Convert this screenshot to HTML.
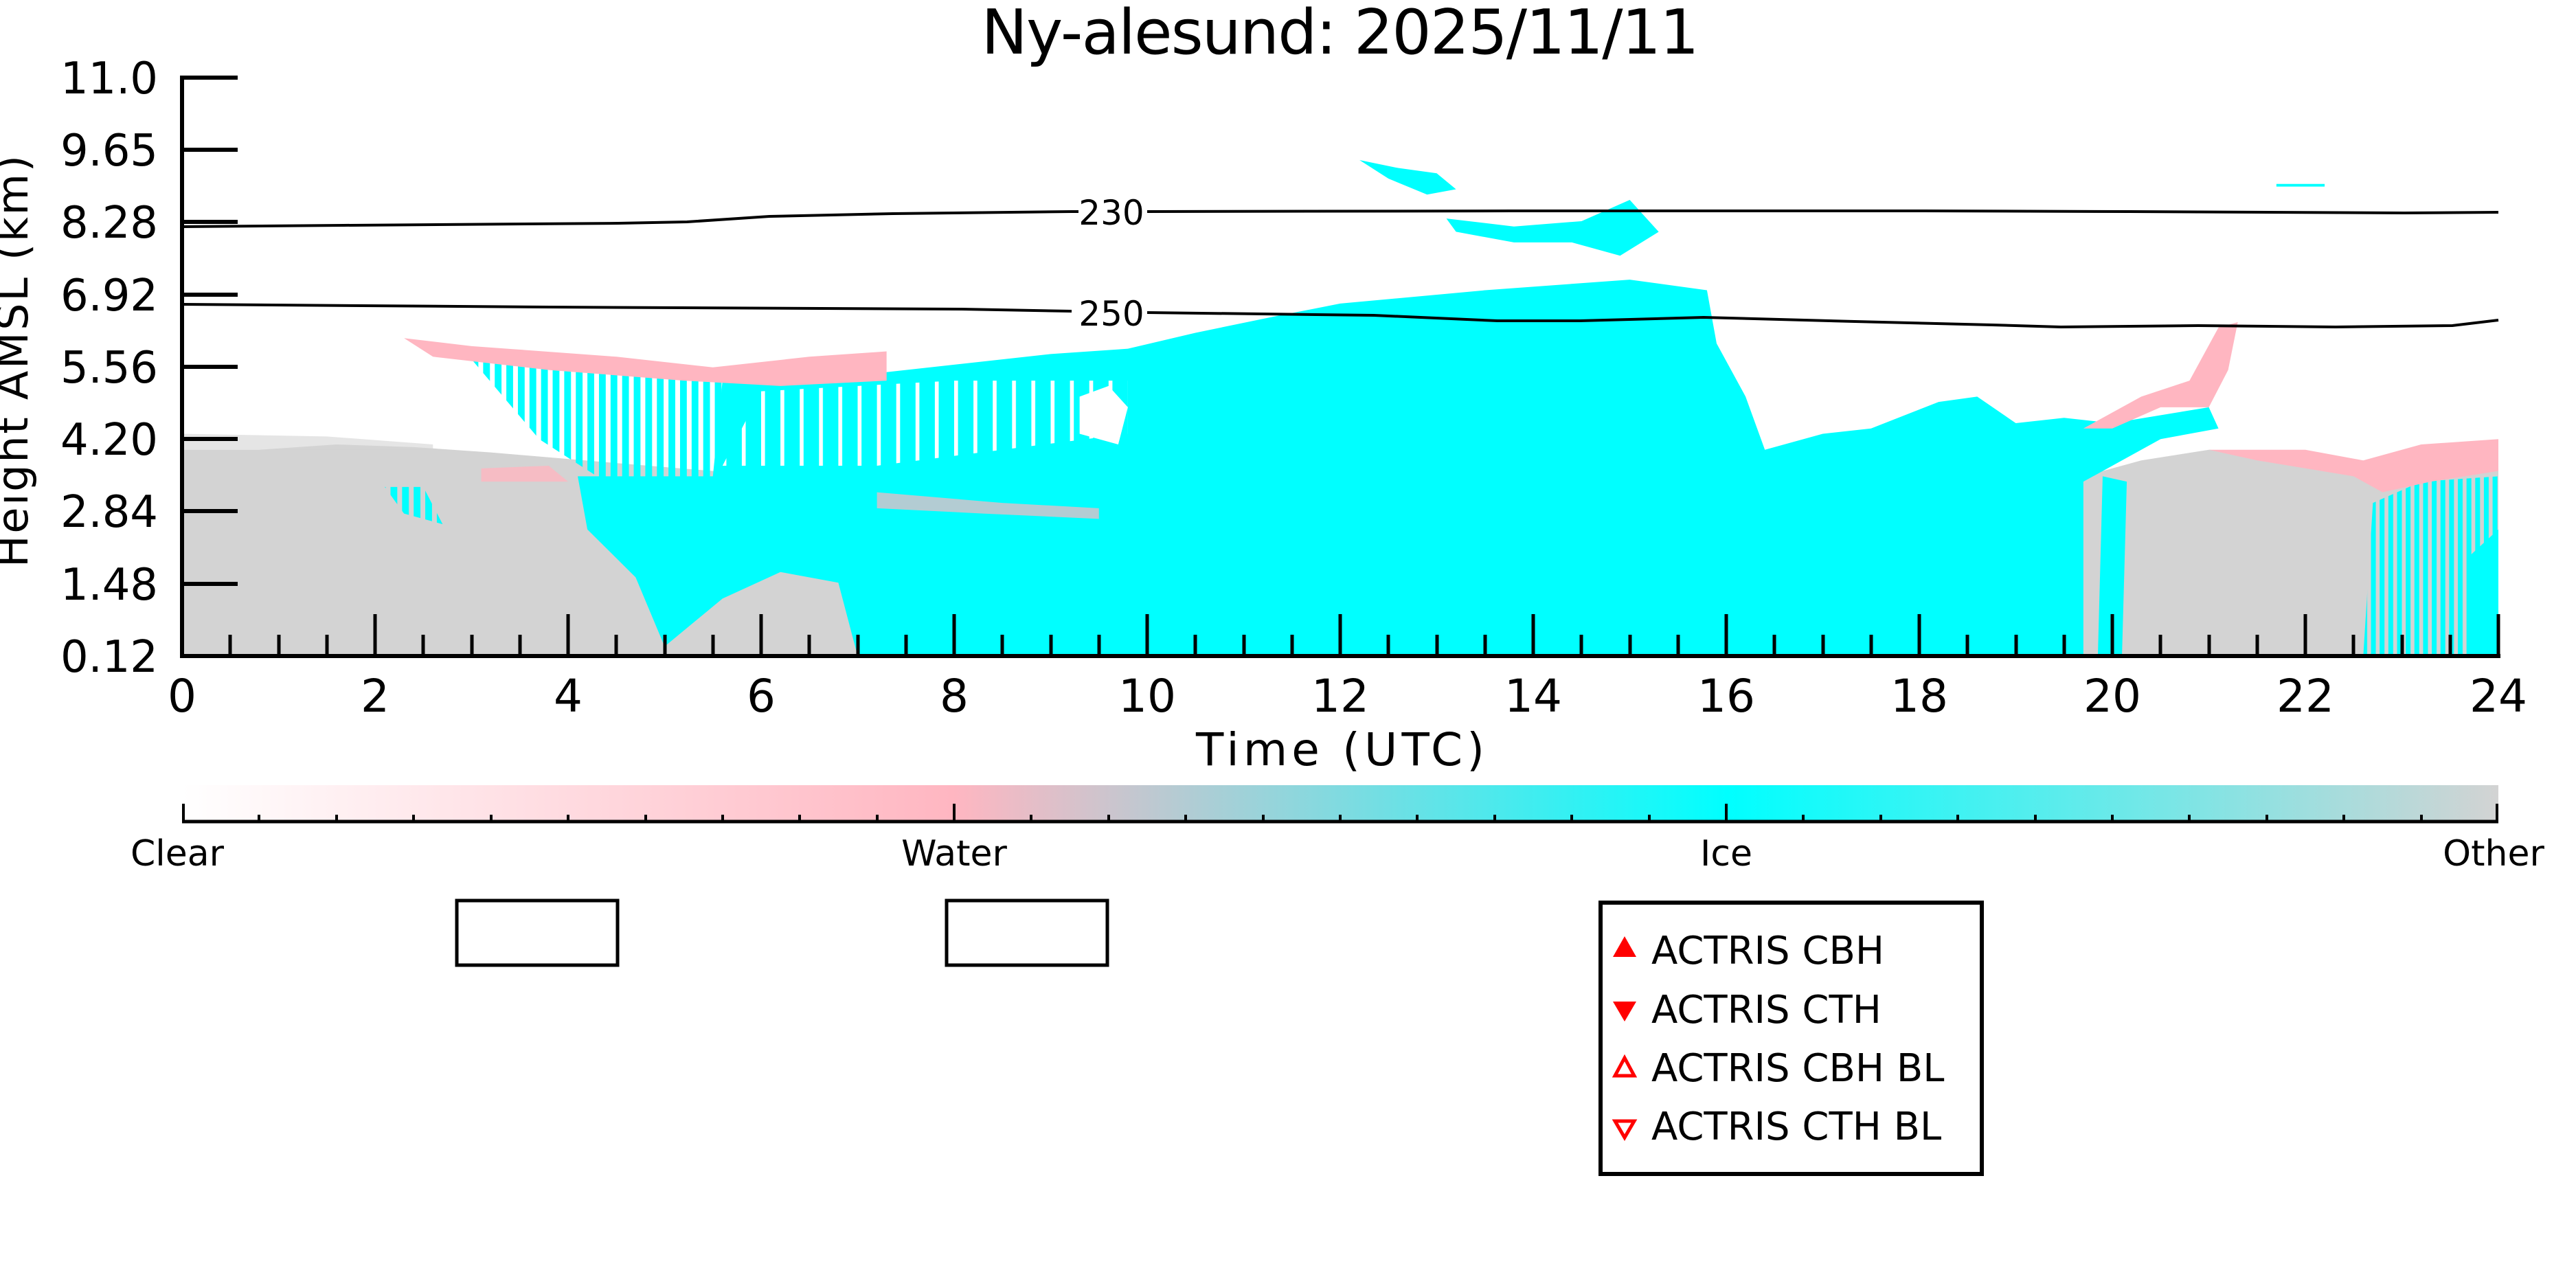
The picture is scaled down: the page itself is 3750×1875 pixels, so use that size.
<!DOCTYPE html>
<html><head><meta charset="utf-8"><style>html,body{margin:0;padding:0;background:#fff}svg{display:block}</style></head>
<body>
<svg width="3750" height="1875" viewBox="0 0 3750 1875" xmlns="http://www.w3.org/2000/svg" font-family="DejaVu Sans, Liberation Sans, sans-serif">
<defs>
<linearGradient id="cb" x1="0" x2="1" y1="0" y2="0">
<stop offset="0" stop-color="#ffffff"/>
<stop offset="0.333" stop-color="#ffb6c1"/>
<stop offset="0.667" stop-color="#00ffff"/>
<stop offset="1" stop-color="#d3d3d3"/>
</linearGradient>
<pattern id="streak" width="0.12" height="10" patternUnits="userSpaceOnUse">
<rect x="0" y="0" width="0.07" height="10" fill="#00ffff"/>
</pattern>
<pattern id="streak2" width="0.09" height="10" patternUnits="userSpaceOnUse">
<rect x="0" y="0" width="0.05" height="10" fill="#00ffff"/>
</pattern>
<pattern id="wstreak" width="0.2" height="10" patternUnits="userSpaceOnUse">
<rect x="0" y="0" width="0.04" height="10" fill="#ffffff"/>
</pattern>
</defs>
<rect width="3750" height="1875" fill="#fff"/>

<g transform="translate(265,955) scale(140.5,-77.39) translate(0,-0.12)">
<polygon fill="#d3d3d3" points="0,0.12 0,4.0 0.8,4.0 1.6,4.1 2.4,4.05 3.2,3.95 4.5,3.75 5.5,3.6 7,3.45 7.1,0.12"/>
<polygon fill="#d3d3d3" opacity="0.6" points="0,4.0 0,4.3 1.5,4.25 2.6,4.1 2.6,4.0"/>
<polygon fill="#d3d3d3" points="19.6,0.12 19.7,3.5 20.3,3.8 21,4.0 21.6,3.95 22.2,3.9 22.6,3.7 22.8,3.4 23.3,3.5 24,3.6 24,0.12"/>
<polygon fill="url(#streak)" points="3.0,5.7 4.6,5.6 5.6,5.3 5.6,3.4 4.3,3.5 3.7,4.2"/>
<polygon fill="url(#streak)" points="2.1,3.3 2.5,3.3 2.7,2.6 2.3,2.8"/>
<polygon fill="#00ffff" points="4.1,3.5 5.5,3.5 5.6,5.3 7.0,5.4 8.0,5.6 9.0,5.8 9.8,5.9 10.5,6.2 11.3,6.5 12.0,6.75 13.5,7.0 15.0,7.2 15.8,7.0 15.9,6.0 16.2,5.0 16.4,4.0 17.0,4.3 17.5,4.4 18.2,4.9 18.6,5.0 19.0,4.5 19.5,4.6 20.0,4.5 21.0,4.8 21.1,4.4 20.5,4.2 20.0,3.7 19.7,3.4 19.7,0.12 7.0,0.12 6.8,1.5 6.2,1.7 5.6,1.2 5.0,0.3 4.7,1.6 4.2,2.5"/>
<polygon fill="url(#wstreak)" points="5.6,3.7 7.2,3.7 8.5,4.0 9.8,4.3 9.8,5.3 8.0,5.3 6.0,5.1"/>
<polygon fill="#fff" points="9.3,4.3 9.7,4.1 9.8,4.8 9.6,5.2 9.3,5.0"/>
<polygon fill="url(#streak2)" points="22.6,0.12 22.7,3.0 23.2,3.4 24,3.5 24,0.12"/>
<polygon fill="#00ffff" points="23.7,0.12 23.7,2.0 24,2.5 24,0.12"/>
<polygon fill="#00ffff" points="19.85,0.12 19.9,3.5 20.15,3.4 20.1,0.12"/>
<polygon fill="#ffb6c1" points="2.3,6.1 3.0,5.95 4.5,5.75 5.5,5.55 6.5,5.75 7.3,5.85 7.3,5.3 6.2,5.2 5.2,5.3 3.8,5.5 2.6,5.75"/>
<polygon fill="#ffb6c1" opacity="0.8" points="3.1,3.65 3.8,3.7 4.0,3.4 3.1,3.4"/>
<polygon fill="#ffb6c1" opacity="0.7" points="7.2,3.2 8.5,3.0 9.5,2.9 9.5,2.7 8.3,2.8 7.2,2.9"/>
<polygon fill="#ffb6c1" points="19.7,4.4 20.3,5.0 20.8,5.3 21.1,6.3 21.3,6.4 21.2,5.5 21.0,4.8 20.5,4.8 20.0,4.4"/>
<polygon fill="#ffb6c1" points="21.0,4.0 22.0,4.0 22.6,3.8 23.2,4.1 24,4.2 24,3.6 23.3,3.4 22.8,3.2 22.5,3.5 21.5,3.8"/>
<polygon fill="#00ffff" points="12.2,9.45 12.6,9.3 13.0,9.2 13.2,8.9 12.9,8.8 12.5,9.1"/>
<polygon fill="#00ffff" points="13.1,8.35 13.8,8.2 14.5,8.3 15.0,8.7 15.3,8.1 14.9,7.65 14.4,7.9 13.8,7.9 13.2,8.1"/>
<polygon fill="#00ffff" points="21.7,9.0 22.2,9.0 22.2,8.95 21.7,8.95"/>
</g>

<polyline fill="none" stroke="#000" stroke-width="4" points="265,330 500,328 900,325 1000,323 1120,315 1300,311 1560,308 1570,308"/>
<polyline fill="none" stroke="#000" stroke-width="4" points="1670,308 2200,307 2800,307 3100,308 3500,310 3637,309"/>
<polyline fill="none" stroke="#000" stroke-width="4" points="265,443 800,447 1400,450 1560,453"/>
<polyline fill="none" stroke="#000" stroke-width="4" points="1670,455 2000,459 2180,467 2300,467 2480,462 2700,468 2900,473 3000,476 3200,474 3400,476 3570,474 3637,466"/>
<text x="1618" y="327" font-size="50" text-anchor="middle">230</text>
<text x="1618" y="474" font-size="50" text-anchor="middle">250</text>

<line x1="265" y1="110" x2="265" y2="957" stroke="#000" stroke-width="6"/>
<line x1="262" y1="955" x2="3640" y2="955" stroke="#000" stroke-width="6"/>
<g stroke="#000" stroke-width="6">
<line x1="265" y1="113" x2="346" y2="113"/>
<line x1="265" y1="218" x2="346" y2="218"/>
<line x1="265" y1="323" x2="346" y2="323"/>
<line x1="265" y1="429" x2="346" y2="429"/>
<line x1="265" y1="534" x2="346" y2="534"/>
<line x1="265" y1="639" x2="346" y2="639"/>
<line x1="265" y1="744" x2="346" y2="744"/>
<line x1="265" y1="850" x2="346" y2="850"/>
</g>
<g stroke="#000" stroke-width="5">
<line x1="335" y1="955" x2="335" y2="924"/><line x1="406" y1="955" x2="406" y2="924"/><line x1="476" y1="955" x2="476" y2="924"/>
<line x1="546" y1="955" x2="546" y2="894"/>
<line x1="616" y1="955" x2="616" y2="924"/><line x1="687" y1="955" x2="687" y2="924"/><line x1="757" y1="955" x2="757" y2="924"/>
<line x1="827" y1="955" x2="827" y2="894"/>
<line x1="897" y1="955" x2="897" y2="924"/><line x1="968" y1="955" x2="968" y2="924"/><line x1="1038" y1="955" x2="1038" y2="924"/>
<line x1="1108" y1="955" x2="1108" y2="894"/>
<line x1="1178" y1="955" x2="1178" y2="924"/><line x1="1249" y1="955" x2="1249" y2="924"/><line x1="1319" y1="955" x2="1319" y2="924"/>
<line x1="1389" y1="955" x2="1389" y2="894"/>
<line x1="1459" y1="955" x2="1459" y2="924"/><line x1="1530" y1="955" x2="1530" y2="924"/><line x1="1600" y1="955" x2="1600" y2="924"/>
<line x1="1670" y1="955" x2="1670" y2="894"/>
<line x1="1740" y1="955" x2="1740" y2="924"/><line x1="1811" y1="955" x2="1811" y2="924"/><line x1="1881" y1="955" x2="1881" y2="924"/>
<line x1="1951" y1="955" x2="1951" y2="894"/>
<line x1="2021" y1="955" x2="2021" y2="924"/><line x1="2092" y1="955" x2="2092" y2="924"/><line x1="2162" y1="955" x2="2162" y2="924"/>
<line x1="2232" y1="955" x2="2232" y2="894"/>
<line x1="2302" y1="955" x2="2302" y2="924"/><line x1="2373" y1="955" x2="2373" y2="924"/><line x1="2443" y1="955" x2="2443" y2="924"/>
<line x1="2513" y1="955" x2="2513" y2="894"/>
<line x1="2583" y1="955" x2="2583" y2="924"/><line x1="2654" y1="955" x2="2654" y2="924"/><line x1="2724" y1="955" x2="2724" y2="924"/>
<line x1="2794" y1="955" x2="2794" y2="894"/>
<line x1="2864" y1="955" x2="2864" y2="924"/><line x1="2935" y1="955" x2="2935" y2="924"/><line x1="3005" y1="955" x2="3005" y2="924"/>
<line x1="3075" y1="955" x2="3075" y2="894"/>
<line x1="3145" y1="955" x2="3145" y2="924"/><line x1="3216" y1="955" x2="3216" y2="924"/><line x1="3286" y1="955" x2="3286" y2="924"/>
<line x1="3356" y1="955" x2="3356" y2="894"/>
<line x1="3426" y1="955" x2="3426" y2="924"/><line x1="3497" y1="955" x2="3497" y2="924"/><line x1="3567" y1="955" x2="3567" y2="924"/>
<line x1="3637" y1="955" x2="3637" y2="894"/>
</g>

<g font-size="64" text-anchor="end">
<text x="230" y="136" textLength="142">11.0</text>
<text x="230" y="241" textLength="142">9.65</text>
<text x="230" y="346" textLength="142">8.28</text>
<text x="230" y="452" textLength="142">6.92</text>
<text x="230" y="557" textLength="142">5.56</text>
<text x="230" y="662" textLength="142">4.20</text>
<text x="230" y="767" textLength="142">2.84</text>
<text x="230" y="873" textLength="142">1.48</text>
<text x="230" y="978" textLength="142">0.12</text>
</g>
<g font-size="66" text-anchor="middle">
<text x="265" y="1036">0</text><text x="546" y="1036">2</text><text x="827" y="1036">4</text><text x="1108" y="1036">6</text>
<text x="1389" y="1036">8</text><text x="1670" y="1036">10</text><text x="1951" y="1036">12</text><text x="2232" y="1036">14</text>
<text x="2513" y="1036">16</text><text x="2794" y="1036">18</text><text x="3075" y="1036">20</text><text x="3356" y="1036">22</text><text x="3637" y="1036">24</text>
<text x="1951" y="1114" textLength="420">Time (UTC)</text>
</g>
<text transform="translate(40,526) rotate(-90)" font-size="62" text-anchor="middle" textLength="600">Height AMSL (km)</text>
<text x="1951" y="78" font-size="90" text-anchor="middle" textLength="1045">Ny-alesund: 2025/11/11</text>

<rect x="265" y="1143" width="3372" height="52" fill="url(#cb)"/>
<line x1="265" y1="1196" x2="3637" y2="1196" stroke="#000" stroke-width="5"/>
<g stroke="#000" stroke-width="4">
<line x1="267" y1="1196" x2="267" y2="1170"/>
<line x1="377" y1="1196" x2="377" y2="1186"/><line x1="490" y1="1196" x2="490" y2="1186"/><line x1="602" y1="1196" x2="602" y2="1186"/><line x1="715" y1="1196" x2="715" y2="1186"/><line x1="827" y1="1196" x2="827" y2="1186"/><line x1="940" y1="1196" x2="940" y2="1186"/><line x1="1052" y1="1196" x2="1052" y2="1186"/><line x1="1164" y1="1196" x2="1164" y2="1186"/><line x1="1277" y1="1196" x2="1277" y2="1186"/>
<line x1="1389" y1="1196" x2="1389" y2="1170"/>
<line x1="1501" y1="1196" x2="1501" y2="1186"/><line x1="1614" y1="1196" x2="1614" y2="1186"/><line x1="1726" y1="1196" x2="1726" y2="1186"/><line x1="1839" y1="1196" x2="1839" y2="1186"/><line x1="1951" y1="1196" x2="1951" y2="1186"/><line x1="2063" y1="1196" x2="2063" y2="1186"/><line x1="2176" y1="1196" x2="2176" y2="1186"/><line x1="2288" y1="1196" x2="2288" y2="1186"/><line x1="2401" y1="1196" x2="2401" y2="1186"/>
<line x1="2513" y1="1196" x2="2513" y2="1170"/>
<line x1="2625" y1="1196" x2="2625" y2="1186"/><line x1="2738" y1="1196" x2="2738" y2="1186"/><line x1="2850" y1="1196" x2="2850" y2="1186"/><line x1="2963" y1="1196" x2="2963" y2="1186"/><line x1="3075" y1="1196" x2="3075" y2="1186"/><line x1="3187" y1="1196" x2="3187" y2="1186"/><line x1="3300" y1="1196" x2="3300" y2="1186"/><line x1="3412" y1="1196" x2="3412" y2="1186"/><line x1="3525" y1="1196" x2="3525" y2="1186"/>
<line x1="3635" y1="1196" x2="3635" y2="1170"/>
</g>
<g font-size="52" text-anchor="middle">
<text x="258" y="1260">Clear</text>
<text x="1389" y="1260">Water</text>
<text x="2513" y="1260">Ice</text>
<text x="3630" y="1260">Other</text>
</g>

<rect x="665" y="1311" width="234" height="94" fill="none" stroke="#000" stroke-width="5"/>
<rect x="1378" y="1311" width="234" height="94" fill="none" stroke="#000" stroke-width="5"/>

<rect x="2330" y="1314" width="555" height="395" fill="none" stroke="#000" stroke-width="6"/>
<polygon fill="#f00" points="2365,1363 2382,1393 2348,1393"/>
<polygon fill="#f00" points="2348,1458 2382,1458 2365,1487"/>
<polygon fill="none" stroke="#f00" stroke-width="5" points="2365,1540 2379,1566 2351,1566"/>
<polygon fill="none" stroke="#f00" stroke-width="5" points="2351,1632 2379,1632 2365,1656"/>
<g font-size="56">
<text x="2404" y="1403">ACTRIS CBH</text>
<text x="2404" y="1489">ACTRIS CTH</text>
<text x="2404" y="1574">ACTRIS CBH BL</text>
<text x="2404" y="1659">ACTRIS CTH BL</text>
</g>
</svg>
</body></html>
